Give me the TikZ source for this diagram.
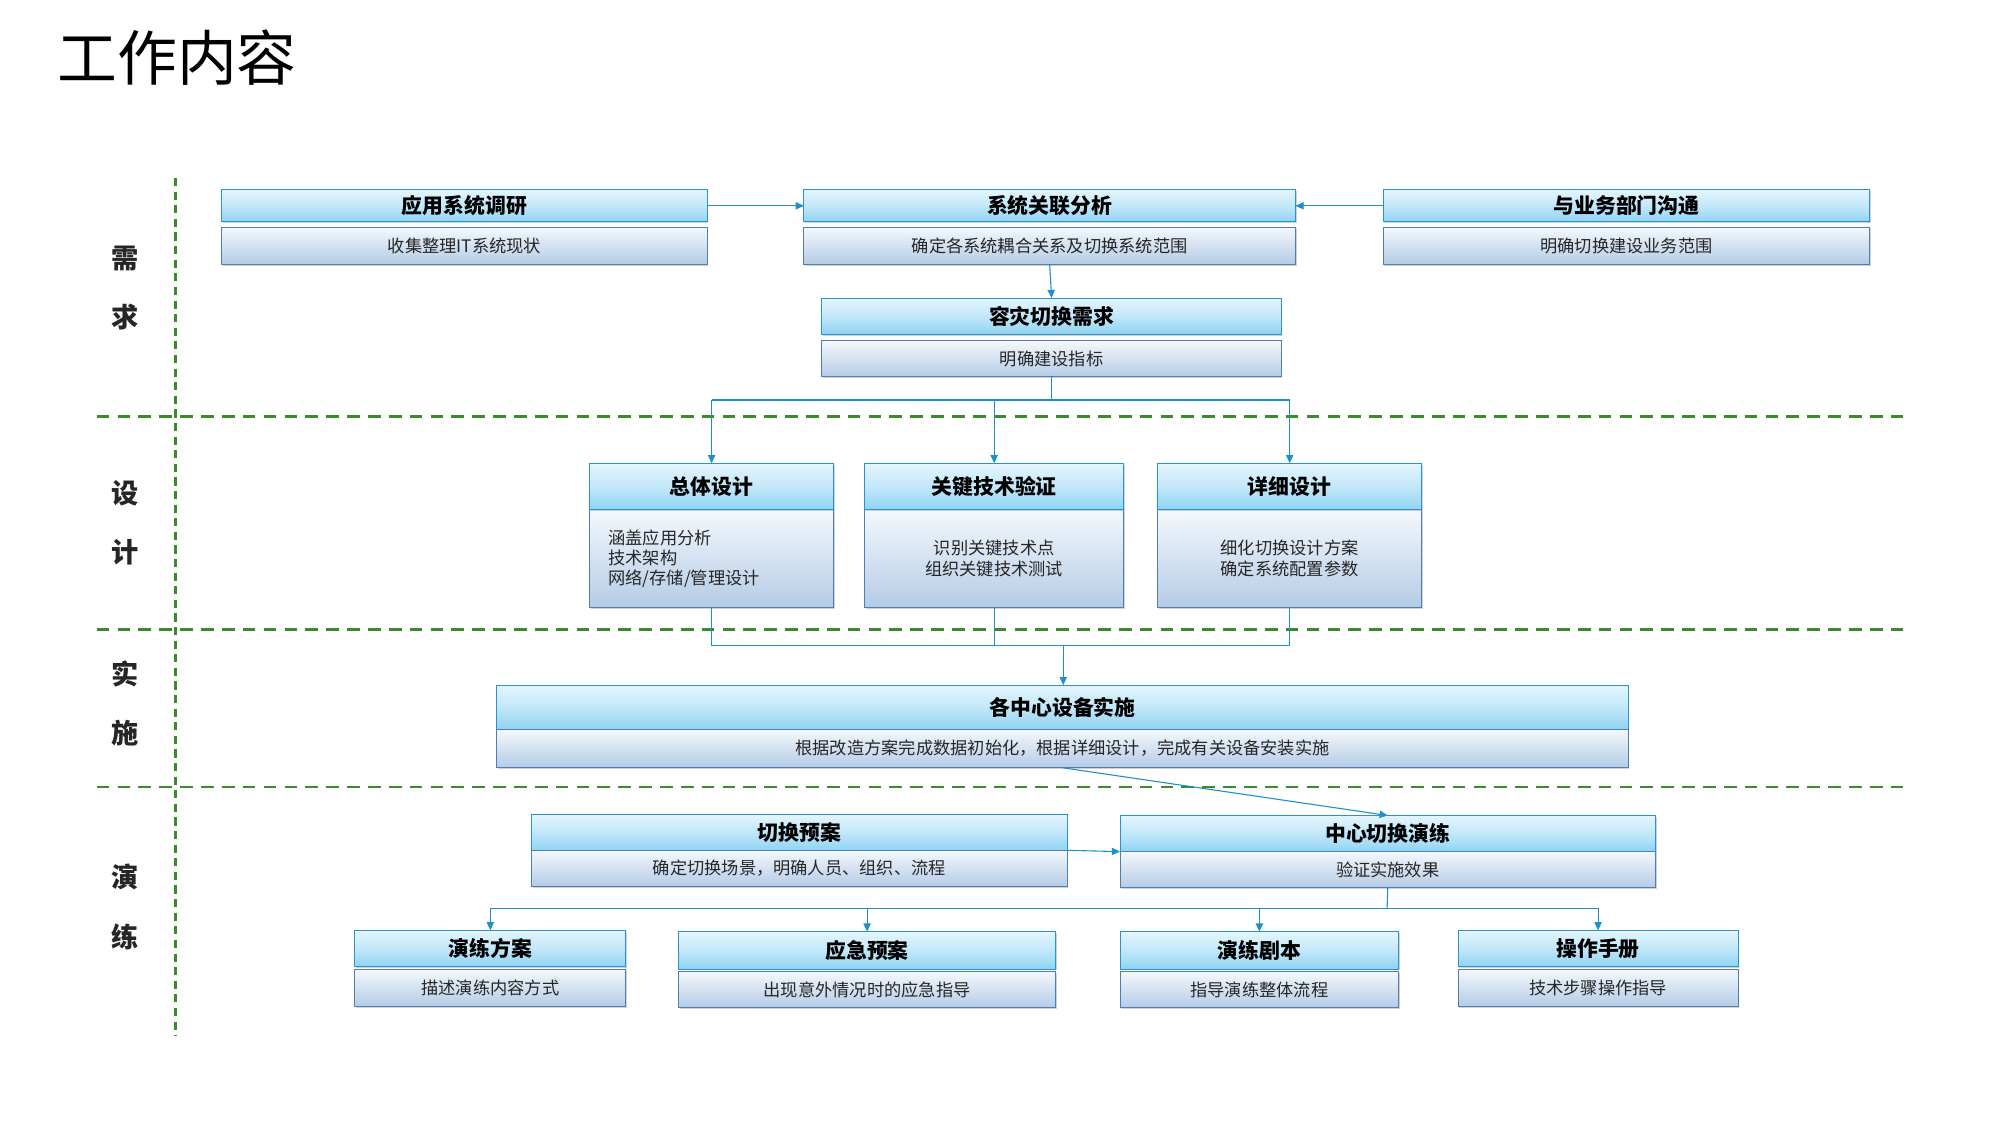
\documentclass[tikz,border=0pt]{standalone}
\usepackage{fontspec}
\setmainfont{Noto Sans CJK SC}
\newfontfamily\cjk{Noto Sans CJK SC}
\usetikzlibrary{arrows.meta,shadows}
\definecolor{tTop}{HTML}{E4F5FD}
\definecolor{tBot}{HTML}{8FD3F3}
\definecolor{tLine}{HTML}{2A93CC}
\definecolor{sTop}{HTML}{F4F8FC}
\definecolor{sBot}{HTML}{B4CBE6}
\definecolor{sLine}{HTML}{4F7FAE}
\definecolor{arr}{HTML}{1E90C8}
\definecolor{dgreen}{HTML}{3C8A2E}
\tikzset{
  base/.style={draw,inner sep=0pt,outer sep=0pt,line width=1pt,
    drop shadow={shadow xshift=1.2pt,shadow yshift=-1.5pt,opacity=0.35}},
  ttl/.style={base,draw=tLine,top color=tTop,bottom color=tBot,middle color=tTop!60!tBot,
    font=\fontsize{23}{26}\selectfont\bfseries,text=black},
  sub/.style={base,draw=sLine,top color=sTop,bottom color=sBot,
    font=\fontsize{19}{23}\selectfont,text=black!85},
  conn/.style={draw=arr,line width=1.2pt},
  ar/.style={conn,-{Triangle[length=9pt,width=8pt]}},
  sep/.style={draw=dgreen,line width=3pt,dash pattern=on 14pt off 9pt},
  side/.style={font=\fontsize{30}{30}\selectfont\bfseries,text=black!85}
}
% name x1 x2 y1 y2 text style
\newcommand\bx[7]{\node[#7,minimum width={(#3-#2)*0.05cm},minimum height={(#5-#4)*0.05cm}] (#1) at ({(#2+#3)/2},{(#4+#5)/2}) {#6};}
\begin{document}
\begin{tikzpicture}[x=0.05cm,y=-0.05cm]
\useasboundingbox[fill=white] (0,0) rectangle (1550,872);
\node[anchor=west,font=\fontsize{66}{66}\selectfont] (title) at (42,45) {工作内容};
% separators
\draw[sep] (75,323) -- (1480,323);
\draw[sep] (75,488) -- (1480,488);
\draw[sep] (75,610) -- (1480,610);
\draw[draw=dgreen,line width=2.5pt,dash pattern=on 9pt off 6pt] (136,138) -- (136,803);
\node[side] (s1) at (97,200) {需};\node[side] (s2) at (97,246) {求};
\node[side] (s3) at (97,382) {设};\node[side] (s4) at (97,428) {计};
\node[side] (s5) at (97,522) {实};\node[side] (s6) at (97,568) {施};
\node[side] (s7) at (97,680) {演};\node[side] (s8) at (97,726) {练};
% row 1
\bx{a1}{172}{548}{147}{172}{应用系统调研}{ttl}
\bx{a2}{172}{548}{176}{205}{收集整理IT系统现状}{sub}
\bx{b1}{623}{1004}{147}{172}{系统关联分析}{ttl}
\bx{b2}{623}{1004}{176}{205}{确定各系统耦合关系及切换系统范围}{sub}
\bx{c1}{1072}{1449}{147}{172}{与业务部门沟通}{ttl}
\bx{c2}{1072}{1449}{176}{205}{明确切换建设业务范围}{sub}
\bx{d1}{637}{993}{231}{259}{容灾切换需求}{ttl}
\bx{d2}{637}{993}{264}{292}{明确建设指标}{sub}
% design
\bx{e2}{457}{646}{395}{471}{}{sub}
\bx{e1}{457}{646}{359}{395}{总体设计}{ttl}
\node[align=left,font=\fontsize{19}{22}\selectfont,text=black!85,anchor=west] (e3) at (469,433) {涵盖应用分析\\技术架构\\网络/存储/管理设计};
\bx{f2}{670}{871}{395}{471}{识别关键技术点\\组织关键技术测试}{sub,align=center}
\bx{f1}{670}{871}{359}{395}{关键技术验证}{ttl}
\bx{g2}{897}{1102}{395}{471}{细化切换设计方案\\确定系统配置参数}{sub,align=center}
\bx{g1}{897}{1102}{359}{395}{详细设计}{ttl}
% implement
\bx{h1}{385}{1262}{531}{565}{各中心设备实施}{ttl}
\bx{h2}{385}{1262}{565}{595}{根据改造方案完成数据初始化，根据详细设计，完成有关设备安装实施}{sub}
% drill
\bx{i1}{412}{827}{631}{659}{切换预案}{ttl}
\bx{i2}{412}{827}{659}{687}{确定切换场景，明确人员、组织、流程}{sub}
\bx{j1}{868}{1283}{632}{660}{中心切换演练}{ttl}
\bx{j2}{868}{1283}{660}{688}{验证实施效果}{sub}
\bx{k1}{275}{485}{721}{749}{演练方案}{ttl}
\bx{k2}{275}{485}{751}{780}{描述演练内容方式}{sub}
\bx{l1}{526}{818}{722}{751}{应急预案}{ttl}
\bx{l2}{526}{818}{753}{781}{出现意外情况时的应急指导}{sub}
\bx{m1}{868}{1084}{722}{751}{演练剧本}{ttl}
\bx{m2}{868}{1084}{753}{781}{指导演练整体流程}{sub}
\bx{n1}{1130}{1347}{721}{749}{操作手册}{ttl}
\bx{n2}{1130}{1347}{751}{780}{技术步骤操作指导}{sub}
% connectors
\draw[ar] (a1.east) -- (b1.west);
\draw[ar] (c1.west) -- (b1.east);
\draw[ar] (b2.south) -- (d1.north);
\coordinate (p1) at (815,310);
\draw[conn] (d2.south) -- (p1);
\draw[conn] (e1.north |- p1) -- (g1.north |- p1);
\draw[ar] (e1.north |- p1) -- (e1.north);
\draw[ar] (f1.north |- p1) -- (f1.north);
\draw[ar] (g1.north |- p1) -- (g1.north);
\coordinate (p2) at (824,500);
\draw[conn] (e2.south) -- (e2.south |- p2) -- (g2.south |- p2) -- (g2.south);
\draw[conn] (f2.south) -- (f2.south |- p2);
\draw[ar] (p2) -- (h1.north -| p2);
\draw[ar] (h2.south) -- (j1.north);
\draw[ar] (i1.south east) -- (j1.south west);
\coordinate (p3) at (1075,704);
\draw[conn] (j2.south) -- (p3);
\draw[conn] (k1.north |- p3) -- (n1.north |- p3);
\draw[ar] (k1.north |- p3) -- (k1.north);
\draw[ar] (l1.north |- p3) -- (l1.north);
\draw[ar] (m1.north |- p3) -- (m1.north);
\draw[ar] (n1.north |- p3) -- (n1.north);
\end{tikzpicture}
\end{document}
